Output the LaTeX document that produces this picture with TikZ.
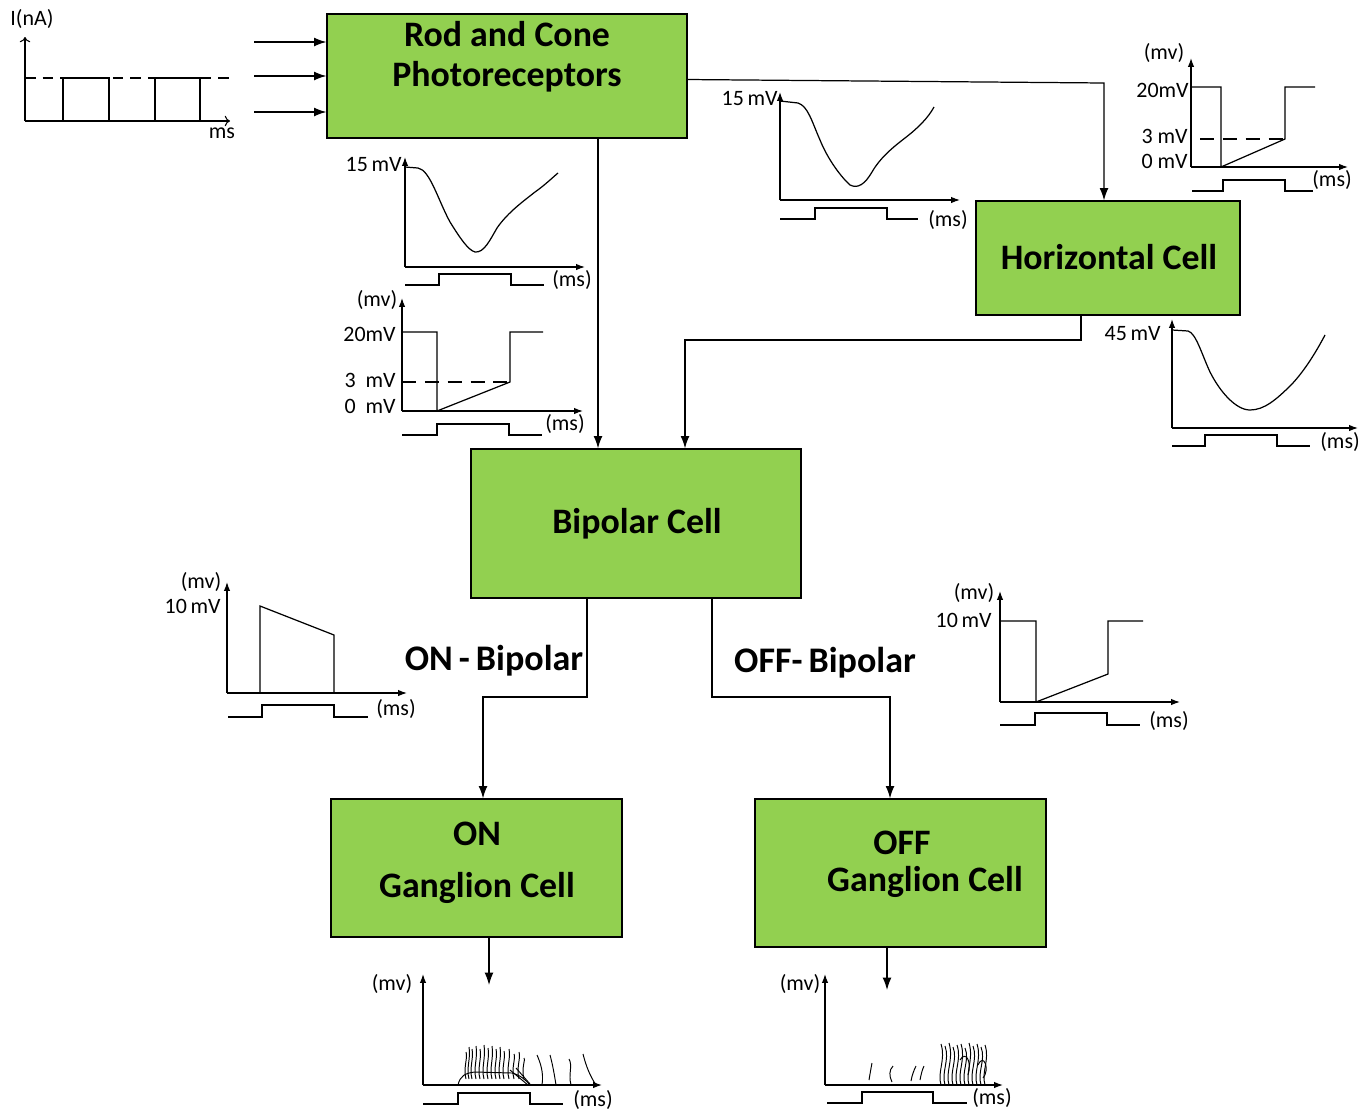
\documentclass[tikz,border=0pt]{standalone}
\usepackage{fontspec}
\setmainfont{Carlito}
\usetikzlibrary{arrows.meta}
\definecolor{boxgreen}{HTML}{92D050}
\begin{document}
\begin{tikzpicture}[x=0.02cm,y=-0.02cm,
  box/.style={draw, fill=boxgreen, line width=0.7pt, inner sep=0pt},
  conn/.style={line width=0.7pt, -{Latex[length=7pt,width=5pt]}},
  ax/.style={line width=0.7pt, -{Latex[length=5pt,width=3.6pt]}},
  oax/.style={line width=0.6pt, -{To[length=3pt,width=6pt]}},
  sig/.style={line width=0.7pt},
  spk/.style={line width=0.55pt},
  lbl/.style={font=\fontsize{12.5}{14}\selectfont, inner sep=0pt},
  title/.style={font=\fontsize{20.4}{24}\selectfont\bfseries, inner sep=0pt, anchor=base},
  sub/.style={font=\fontsize{20.5}{24}\selectfont\bfseries, inner sep=0pt, anchor=base}]
\useasboundingbox (0,0) rectangle (1364,1112);

% ---- boxes
\node[box, minimum width=7.2cm, minimum height=2.48cm] (rod) at (507,76) {};
\node[title] (rodt1) at (507,46) {Rod and Cone};
\node[title] (rodt2) at (507,86) {Photoreceptors};
\node[box, minimum width=5.28cm, minimum height=2.28cm] (hor) at (1108,258) {};
\node[title] (hort) at (1109,269) {Horizontal Cell};
\node[box, minimum width=6.6cm, minimum height=2.98cm] (bip) at (636,523.5) {};
\node[title] (bipt) at (637,533) {Bipolar Cell};
\node[box, minimum width=5.82cm, minimum height=2.76cm] (on) at (476.5,868) {};
\node[title] (ont1) at (477,845) {ON};
\node[title] (ont2) at (477,897) {Ganglion Cell};
\node[box, minimum width=5.82cm, minimum height=2.96cm] (off) at (900.5,873) {};
\node[title] (offt1) at (902,854) {OFF};
\node[title] (offt2) at (925,891) {Ganglion Cell};
\node[sub] (onb) at (494,670) {ON\,-\,Bipolar};
\node[sub] (offb) at (825,672) {OFF-\,Bipolar};

% ---- connectors
\coordinate (in1) at (254,42);
\coordinate (in2) at (254,76);
\coordinate (in3) at (254,112);
\draw[conn] (in1) -- (in1 -| rod.west);
\draw[conn] (in2) -- (in2 -| rod.west);
\draw[conn] (in3) -- (in3 -| rod.west);
\coordinate (rh) at (1104,83);
\draw[conn] ([yshift=-2pt]rod.east) -- (rh) -- (rh |- hor.north);
\coordinate (rb) at (598,300);
\draw[conn] (rb |- rod.south) -- (rb |- bip.north);
\coordinate (h1) at (1081,340);
\coordinate (b1) at (685,340);
\draw[conn] (h1 |- hor.south) -- (h1) -- (b1) -- (b1 |- bip.north);
\coordinate (o1) at (587,697);
\coordinate (o2) at (483,697);
\draw[conn] (o1 |- bip.south) -- (o1) -- (o2) -- (o2 |- on.north);
\coordinate (f1) at (712,697);
\coordinate (f2) at (890,697);
\draw[conn] (f1 |- bip.south) -- (f1) -- (f2) -- (f2 |- off.north);
\coordinate (onout) at (489,985);
\draw[conn] (onout |- on.south) -- (onout);
\coordinate (offout) at (887,990);
\draw[conn] (offout |- off.south) -- (offout);

% ---- graph 1: input current
\draw[oax] (25,121) -- (25,37);
\draw[oax] (25,121) -- (230,121);
\draw[line width=0.6pt, dash pattern=on 6pt off 4pt] (25,78) -- (230,78);
\draw[sig] (63,121) -- (63,78) -- (109,78) -- (109,121);
\draw[sig] (155,121) -- (155,78) -- (200,78) -- (200,121);
\node[lbl] (g1y) at (32,19) {I(nA)};
\node[lbl] (g1x) at (222,133) {ms};

% ---- graph 2: 15 mV under rod
\draw[ax] (405,267) -- (405,157);
\draw[ax] (405,267) -- (585,267);
\draw[sig] (405,167) -- (418,168) .. controls (430,170) and (438,200) .. (450,222)
  .. controls (460,238) and (468,250) .. (475,252)
  .. controls (484,253) and (490,240) .. (497,228)
  .. controls (508,212) and (525,200) .. (535,192)
  .. controls (545,185) and (552,178) .. (558,173);
\draw[sig] (405,285) -- (439,285) -- (439,274) -- (511,274) -- (511,285) -- (544,285);
\node[lbl, anchor=east] (g2l) at (402,165) {15\,mV};
\node[lbl] (g2x) at (572,280) {(ms)};

% ---- graph 3: 20 mV under rod
\draw[ax] (402,411) -- (402,298);
\draw[ax] (402,411) -- (583,411);
\draw[sig] (402,332) -- (437,332) -- (437,411) -- (510,382) -- (510,332) -- (543,332);
\draw[line width=0.6pt, dash pattern=on 8pt off 5pt] (402,382) -- (510,382);
\draw[sig] (402,435) -- (437,435) -- (437,424) -- (509,424) -- (509,435) -- (542,435);
\node[lbl] (g3y) at (377,300) {(mv)};
\node[lbl, anchor=east] (g3a) at (396,334) {20mV};
\node[lbl, anchor=east] (g3b) at (396,380) {3\ \ mV};
\node[lbl, anchor=east] (g3c) at (396,406) {0\ \ mV};
\node[lbl] (g3x) at (565,424) {(ms)};

% ---- graph 4: 15 mV top middle
\draw[ax] (780,200) -- (780,92);
\draw[ax] (780,200) -- (960,200);
\draw[sig] (780,101) -- (798,103) .. controls (808,106) and (812,122) .. (820,140)
  .. controls (828,160) and (842,178) .. (850,185)
  .. controls (858,189) and (865,184) .. (872,172)
  .. controls (880,158) and (892,148) .. (905,138)
  .. controls (918,128) and (928,118) .. (934,107);
\draw[sig] (780,219) -- (815,219) -- (815,208) -- (887,208) -- (887,219) -- (918,219);
\node[lbl, anchor=east] (g4l) at (778,99) {15\,mV};
\node[lbl] (g4x) at (948,220) {(ms)};

% ---- graph 5: top right 20 mV
\draw[ax] (1191,167) -- (1191,58);
\draw[ax] (1191,167) -- (1348,167);
\draw[sig] (1191,87) -- (1221,87) -- (1221,167) -- (1285,139) -- (1285,87) -- (1315,87);
\draw[line width=0.6pt, dash pattern=on 8pt off 5pt] (1200,139) -- (1285,139);
\draw[sig] (1192,191) -- (1223,191) -- (1223,180) -- (1285,180) -- (1285,191) -- (1313,191);
\node[lbl] (g5y) at (1164,53) {(mv)};
\node[lbl, anchor=east] (g5a) at (1189,90) {20mV};
\node[lbl, anchor=east] (g5b) at (1188,136) {3 mV};
\node[lbl, anchor=east] (g5c) at (1188,161) {0 mV};
\node[lbl] (g5x) at (1332,180) {(ms)};

% ---- graph 6: 45 mV
\draw[ax] (1172,428) -- (1172,319);
\draw[ax] (1172,428) -- (1358,428);
\draw[sig] (1172,330) -- (1188,331) .. controls (1196,333) and (1202,355) .. (1210,372)
  .. controls (1220,392) and (1236,410) .. (1250,410)
  .. controls (1264,410) and (1276,400) .. (1292,384)
  .. controls (1305,370) and (1316,352) .. (1325,335);
\draw[sig] (1172,446) -- (1205,446) -- (1205,435) -- (1277,435) -- (1277,446) -- (1310,446);
\node[lbl, anchor=east] (g6l) at (1161,334) {45\,mV};
\node[lbl] (g6x) at (1340,442) {(ms)};

% ---- graph 7: ON bipolar
\draw[ax] (227,693) -- (227,582);
\draw[ax] (227,693) -- (407,693);
\draw[sig] (260,693) -- (260,606) -- (334,635) -- (334,693);
\draw[sig] (228,717) -- (262,717) -- (262,705) -- (334,705) -- (334,717) -- (368,717);
\node[lbl] (g7y) at (201,582) {(mv)};
\node[lbl, anchor=east] (g7a) at (221,606) {10\,mV};
\node[lbl] (g7x) at (396,709) {(ms)};

% ---- graph 8: OFF bipolar
\draw[ax] (1000,702) -- (1000,591);
\draw[ax] (1000,702) -- (1180,702);
\draw[sig] (1000,621) -- (1036,621) -- (1036,702) -- (1108,674) -- (1108,621) -- (1143,621);
\draw[sig] (1000,725) -- (1035,725) -- (1035,713) -- (1107,713) -- (1107,725) -- (1140,725);
\node[lbl] (g8y) at (974,593) {(mv)};
\node[lbl, anchor=east] (g8a) at (992,620) {10\,mV};
\node[lbl] (g8x) at (1169,721) {(ms)};

% ---- graph 9: ON ganglion spikes
\draw[ax] (423,1085) -- (423,974);
\draw[ax] (423,1085) -- (602,1085);
\draw[sig] (423,1104) -- (458,1104) -- (458,1093) -- (530,1093) -- (530,1104) -- (563,1104);
\draw[spk] (458,1085) .. controls (460,1076) and (465,1073) .. (475,1072)
  -- (512,1073) .. controls (520,1075) and (526,1080) .. (530,1085);
\foreach \x/\t in {466/1052, 469/1047, 472/1049, 476/1046, 480/1049, 484/1045,
  488/1048, 492/1046, 496/1049, 500/1047, 504/1051, 509/1049, 514/1054, 519/1052, 524/1058}{
  \draw[spk] (\x,1079) .. controls (\x-3,1068) and (\x+2,1058) .. (\x,\t);
}
\draw[spk] (510,1070) -- (528,1085);
\draw[spk] (516,1068) -- (530,1084);
\draw[spk] (542,1085) .. controls (544,1072) and (540,1062) .. (537,1055);
\draw[spk] (556,1085) .. controls (554,1072) and (552,1062) .. (550,1055);
\draw[spk] (571,1085) .. controls (568,1074) and (573,1066) .. (569,1059);
\draw[spk] (596,1085) .. controls (590,1076) and (586,1066) .. (583,1054);
\node[lbl] (g9y) at (392,984) {(mv)};
\node[lbl] (g9x) at (593,1100) {(ms)};

% ---- graph 10: OFF ganglion spikes
\draw[ax] (825,1085) -- (825,974);
\draw[ax] (825,1085) -- (1003,1085);
\draw[sig] (827,1103) -- (862,1103) -- (862,1092) -- (933,1092) -- (933,1103) -- (967,1103);
\draw[spk] (869,1080) .. controls (870,1074) and (871,1068) .. (872,1063);
\draw[spk] (892,1082) .. controls (889,1076) and (889,1070) .. (893,1066);
\draw[spk] (911,1081) .. controls (912,1075) and (914,1070) .. (916,1066);
\draw[spk] (920,1080) .. controls (921,1075) and (922,1070) .. (924,1066);
\foreach \x/\t in {941/1044, 945/1046, 949/1043, 953/1047, 957/1045, 961/1044,
  965/1048, 969/1043, 973/1046, 977/1044, 981/1047, 985/1045}{
  \draw[spk] (\x,1085) .. controls (\x-4,1072) and (\x+5,1060) .. (\x,\t);
}
\draw[spk] (960,1060) .. controls (966,1050) and (972,1062) .. (968,1075);
\draw[spk] (978,1065) .. controls (984,1052) and (990,1070) .. (983,1078);
\node[lbl] (g10y) at (800,984) {(mv)};
\node[lbl] (g10x) at (992,1098) {(ms)};
\end{tikzpicture}
\end{document}
